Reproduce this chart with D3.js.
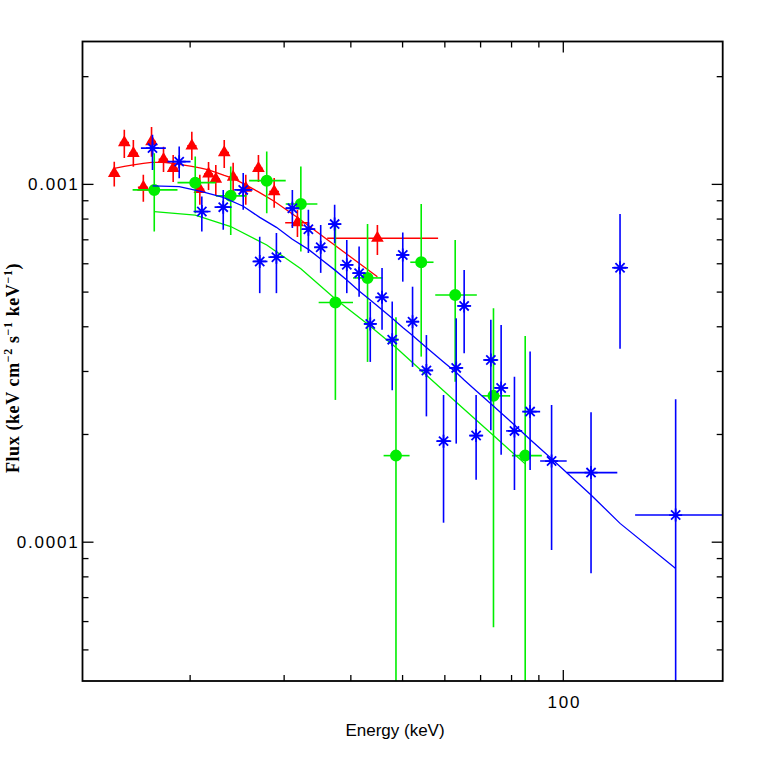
<!DOCTYPE html>
<html>
<head>
<meta charset="utf-8">
<script src="https://cdn.jsdelivr.net/npm/d3@7"></script>
<style>
  html, body { margin: 0; padding: 0; background: #fff; }
  svg { display: block; }
</style>
</head>
<body>
<svg id="chart" width="763" height="763"></svg>
<script>
// energies in keV, flux in keV cm^-2 s^-1 keV^-1

// red (triangles)
const redE    = [14.45, 15.09, 15.69, 16.38, 16.97, 17.87, 18.63, 20.19, 20.90, 21.70, 22.39, 23.22, 24.13, 25.48, 26.91, 28.80, 31.84, 44.95];
const redELo  = [14.2, 14.8, 15.4, 16.0, 16.7, 17.5, 18.3, 19.8, 20.5, 21.3, 22.0, 22.8, 23.7, 25.0, 26.4, 28.2, 30.2, 36.2];
const redEHi  = [14.7, 15.4, 16.0, 16.7, 17.3, 18.2, 19.0, 20.6, 21.3, 22.1, 22.8, 23.7, 24.6, 26.0, 27.4, 29.4, 33.5, 58.4];
const redF    = [1.071e-3, 1.305e-3, 1.218e-3, 0.979e-3, 1.313e-3, 1.172e-3, 1.106e-3, 1.277e-3, 0.966e-3, 1.067e-3, 1.031e-3, 1.223e-3, 1.044e-3, 0.973e-3, 1.106e-3, 0.952e-3, 0.779e-3, 0.705e-3];
const redFLo  = [0.983e-3, 1.182e-3, 1.116e-3, 0.892e-3, 1.190e-3, 1.080e-3, 1.013e-3, 1.167e-3, 0.874e-3, 0.962e-3, 0.926e-3, 1.108e-3, 0.950e-3, 0.874e-3, 1.013e-3, 0.857e-3, 0.711e-3, 0.633e-3];
const redFHi  = [1.154e-3, 1.416e-3, 1.327e-3, 1.060e-3, 1.443e-3, 1.269e-3, 1.205e-3, 1.398e-3, 1.060e-3, 1.152e-3, 1.130e-3, 1.327e-3, 1.145e-3, 1.060e-3, 1.205e-3, 1.039e-3, 0.846e-3, 0.768e-3];
const redModel = [1.105e-3, 1.119e-3, 1.130e-3, 1.141e-3, 1.148e-3, 1.148e-3, 1.141e-3, 1.119e-3, 1.108e-3, 1.094e-3, 1.077e-3, 1.056e-3, 1.036e-3, 0.994e-3, 0.950e-3, 0.894e-3, 0.805e-3, 0.550e-3];

// green (circles)
const greenE    = [17.17, 20.49, 23.88, 27.89, 32.31, 37.50, 43.08, 48.70, 54.30, 62.87, 74.16, 85.03];
const greenELo  = [15.64, 18.98, 22.39, 25.85, 30.27, 34.89, 40.46, 46.17, 51.80, 57.69, 70.54, 80.29];
const greenEHi  = [18.98, 22.39, 25.56, 30.27, 34.70, 40.46, 45.91, 51.64, 57.26, 69.02, 79.67, 91.35];
const greenF    = [0.962e-3, 1.008e-3, 0.926e-3, 1.021e-3, 0.879e-3, 0.466e-3, 0.546e-3, 0.174e-3, 0.604e-3, 0.489e-3, 0.2556e-3, 0.174e-3];
const greenFLo  = [0.736e-3, 0.828e-3, 0.720e-3, 0.828e-3, 0.647e-3, 0.249e-3, 0.318e-3, 0, 0.329e-3, 0.280e-3, 0.0577e-3, 0];
const greenFHi  = [1.218e-3, 1.192e-3, 1.118e-3, 1.231e-3, 1.118e-3, 0.773e-3, 0.773e-3, 0.424e-3, 0.879e-3, 0.697e-3, 0.449e-3, 0.376e-3];
const greenModel = [0.837e-3, 0.818e-3, 0.760e-3, 0.675e-3, 0.579e-3, 0.477e-3, 0.406e-3, 0.349e-3, 0.301e-3, 0.247e-3, 0.198e-3, 0.165e-3];

// blue (asterisks)
const blueE    = [17.04, 19.12, 21.08, 23.12, 25.20, 27.06, 29.08, 31.15, 33.38, 35.20, 37.38, 39.39, 41.54, 43.59, 45.86, 47.92, 50.15, 52.31, 55.53, 59.79, 63.15, 65.35, 68.81, 73.32, 76.65, 81.18, 86.85, 95.28, 112.95, 128.0, 162.7];
const blueELo  = [16.21, 18.18, 20.34, 22.27, 24.24, 26.23, 28.09, 30.23, 32.38, 34.25, 36.38, 38.31, 40.35, 42.47, 44.56, 46.71, 48.76, 50.91, 53.84, 57.94, 61.28, 63.42, 66.77, 70.93, 74.38, 78.31, 83.93, 90.69, 101.7, 123.7, 136.6];
const blueEHi  = [18.05, 20.08, 21.89, 23.96, 26.23, 27.98, 30.10, 32.10, 34.40, 36.22, 38.47, 40.52, 42.66, 44.75, 47.12, 49.18, 51.57, 53.84, 57.18, 61.80, 65.08, 67.34, 70.93, 75.68, 79.00, 83.93, 90.69, 101.7, 126.5, 132.5, 199.2];
const blueF    = [1.259e-3, 1.154e-3, 0.837e-3, 0.861e-3, 0.962e-3, 0.607e-3, 0.624e-3, 0.855e-3, 0.747e-3, 0.665e-3, 0.772e-3, 0.594e-3, 0.563e-3, 0.406e-3, 0.482e-3, 0.367e-3, 0.633e-3, 0.412e-3, 0.301e-3, 0.191e-3, 0.306e-3, 0.456e-3, 0.198e-3, 0.322e-3, 0.269e-3, 0.204e-3, 0.231e-3, 0.168e-3, 0.156e-3, 0.583e-3, 0.1187e-3];
const blueFLo  = [1.094e-3, 1.037e-3, 0.736e-3, 0.744e-3, 0.846e-3, 0.495e-3, 0.495e-3, 0.753e-3, 0.641e-3, 0.564e-3, 0.683e-3, 0.495e-3, 0.484e-3, 0.318e-3, 0.391e-3, 0.265e-3, 0.533e-3, 0.308e-3, 0.224e-3, 0.113e-3, 0.188e-3, 0.336e-3, 0.149e-3, 0.205e-3, 0.175e-3, 0.1395e-3, 0.1587e-3, 0.0948e-3, 0.0816e-3, 0.346e-3, 0];
const blueFHi  = [1.371e-3, 1.271e-3, 0.922e-3, 0.962e-3, 1.073e-3, 0.712e-3, 0.729e-3, 0.962e-3, 0.846e-3, 0.768e-3, 0.874e-3, 0.697e-3, 0.668e-3, 0.468e-3, 0.582e-3, 0.469e-3, 0.731e-3, 0.516e-3, 0.378e-3, 0.257e-3, 0.421e-3, 0.575e-3, 0.257e-3, 0.417e-3, 0.403e-3, 0.289e-3, 0.340e-3, 0.241e-3, 0.230e-3, 0.824e-3, 0.250e-3];
const blueModel = [0.987e-3, 0.983e-3, 0.952e-3, 0.917e-3, 0.866e-3, 0.806e-3, 0.756e-3, 0.700e-3, 0.656e-3, 0.617e-3, 0.575e-3, 0.539e-3, 0.502e-3, 0.474e-3, 0.445e-3, 0.421e-3, 0.397e-3, 0.377e-3, 0.349e-3, 0.318e-3, 0.297e-3, 0.283e-3, 0.264e-3, 0.243e-3, 0.229e-3, 0.212e-3, 0.193e-3, 0.1706e-3, 0.1351e-3, 0.1125e-3, 0.0842e-3];

// axes
const xMajorTicks = [100];
const xTickLabels = ["100"];
const xMinorTicks = [20, 30, 40, 50, 60, 70, 80, 90];
const yMajorTicks = [1e-4, 1e-3];
const yTickLabels = ["0.0001", "0.001"];
const yMinorTicks = [5e-5, 6e-5, 7e-5, 8e-5, 9e-5, 2e-4, 3e-4, 4e-4, 5e-4, 6e-4, 7e-4, 8e-4, 9e-4, 2e-3];

const width = 763, height = 763;
const margin = { top: 41.5, right: 40.3, bottom: 82, left: 82.5 };
const font = "'Liberation Sans', Arial, Helvetica, sans-serif";

const svg = d3.select("#chart");

const x = d3.scaleLog()
    .domain([12.6, 199.3])
    .range([margin.left, width - margin.right]);
const y = d3.scaleLog()
    .domain([4.08e-5, 2.5e-3])
    .range([height - margin.bottom, margin.top]);

// values <= 0 (error reaching zero) go to the bottom of the frame
const yv = v => v > 0 ? y(v) : height - margin.bottom + 5;

svg.append("defs").append("clipPath").attr("id", "clip")
    .append("rect")
    .attr("x", margin.left).attr("y", margin.top)
    .attr("width", width - margin.left - margin.right)
    .attr("height", height - margin.top - margin.bottom);

const series = [
    { color: "#ff0000", marker: "triangle", E: redE, eLo: redELo, eHi: redEHi, F: redF, fLo: redFLo, fHi: redFHi, model: redModel },
    { color: "#00ee00", marker: "circle", E: greenE, eLo: greenELo, eHi: greenEHi, F: greenF, fLo: greenFLo, fHi: greenFHi, model: greenModel },
    { color: "#0000ff", marker: "star", E: blueE, eLo: blueELo, eHi: blueEHi, F: blueF, fLo: blueFLo, fHi: blueFHi, model: blueModel }
];

const plot = svg.append("g").attr("clip-path", "url(#clip)");

const triangle = d3.symbol(d3.symbolTriangle).size(70)();
const star = "M-6.5,0L6.5,0M0,-6.5L0,6.5M-4.6,-4.6L4.6,4.6M-4.6,4.6L4.6,-4.6";

series.forEach(s => {
    const g = plot.append("g");
    const idx = s.E.map((d, i) => i);

    g.selectAll(".xerr")
        .data(idx)
        .join("line")
        .attr("class", "xerr")
        .attr("x1", i => x(s.eLo[i]))
        .attr("x2", i => x(s.eHi[i]))
        .attr("y1", i => y(s.F[i]))
        .attr("y2", i => y(s.F[i]))
        .attr("stroke", s.color)
        .attr("stroke-width", 1.6);

    g.selectAll(".yerr")
        .data(idx)
        .join("line")
        .attr("class", "yerr")
        .attr("x1", i => x(s.E[i]))
        .attr("x2", i => x(s.E[i]))
        .attr("y1", i => yv(s.fLo[i]))
        .attr("y2", i => yv(s.fHi[i]))
        .attr("stroke", s.color)
        .attr("stroke-width", 1.6);

    const marks = g.selectAll(".mark")
        .data(idx)
        .join("path")
        .attr("class", "mark")
        .attr("transform", i => `translate(${x(s.E[i])},${y(s.F[i])})`);

    if (s.marker === "triangle") {
        marks.attr("d", triangle).attr("fill", s.color);
    } else if (s.marker === "circle") {
        marks.attr("d", d3.symbol(d3.symbolCircle).size(113)()).attr("fill", s.color);
    } else {
        marks.attr("d", star).attr("fill", "none").attr("stroke", s.color).attr("stroke-width", 1.8);
    }

    const line = d3.line()
        .x(i => x(s.E[i]))
        .y(i => y(s.model[i]));
    g.append("path")
        .attr("d", line(idx))
        .attr("fill", "none")
        .attr("stroke", s.color)
        .attr("stroke-width", 1.3);
});

// axes, ticks pointing inward on all four sides
function styleAxis(g) {
    g.select(".domain").remove();
    g.selectAll(".tick line").attr("stroke", "#000").attr("stroke-width", 1.3);
    g.selectAll(".tick text")
        .attr("fill", "#000")
        .style("font-family", font)
        .style("font-size", "17px")
        .style("letter-spacing", "1.8px");
}

const atBottom = `translate(0,${height - margin.bottom})`;
const atTop = `translate(0,${margin.top})`;
const atLeft = `translate(${margin.left},0)`;
const atRight = `translate(${width - margin.right},0)`;

svg.append("g").attr("transform", atBottom)
    .call(d3.axisBottom(x).tickValues(xMajorTicks).tickSize(-11).tickPadding(15)
        .tickFormat((d, i) => xTickLabels[i]))
    .call(styleAxis)
    .selectAll(".tick text").attr("dx", 1);
svg.append("g").attr("transform", atBottom)
    .call(d3.axisBottom(x).tickValues(xMinorTicks).tickSize(-6).tickFormat(""))
    .call(styleAxis);
svg.append("g").attr("transform", atTop)
    .call(d3.axisTop(x).tickValues(xMajorTicks).tickSize(-11).tickFormat(""))
    .call(styleAxis);
svg.append("g").attr("transform", atTop)
    .call(d3.axisTop(x).tickValues(xMinorTicks).tickSize(-6).tickFormat(""))
    .call(styleAxis);

svg.append("g").attr("transform", atLeft)
    .call(d3.axisLeft(y).tickValues(yMajorTicks).tickSize(-11).tickPadding(3)
        .tickFormat((d, i) => yTickLabels[i]))
    .call(styleAxis);
svg.append("g").attr("transform", atLeft)
    .call(d3.axisLeft(y).tickValues(yMinorTicks).tickSize(-6).tickFormat(""))
    .call(styleAxis);
svg.append("g").attr("transform", atRight)
    .call(d3.axisRight(y).tickValues(yMajorTicks).tickSize(-11).tickFormat(""))
    .call(styleAxis);
svg.append("g").attr("transform", atRight)
    .call(d3.axisRight(y).tickValues(yMinorTicks).tickSize(-6).tickFormat(""))
    .call(styleAxis);

// frame
svg.append("rect")
    .attr("x", margin.left).attr("y", margin.top)
    .attr("width", width - margin.left - margin.right)
    .attr("height", height - margin.top - margin.bottom)
    .attr("fill", "none")
    .attr("stroke", "#000")
    .attr("stroke-width", 1.8);

// axis titles
svg.append("text")
    .attr("x", 395)
    .attr("y", 736)
    .attr("text-anchor", "middle")
    .style("font-family", font)
    .style("font-size", "17px")
    .text("Energy (keV)");

const ylab = svg.append("text")
    .attr("transform", "translate(19,368) rotate(-90)")
    .attr("text-anchor", "middle")
    .style("font-family", "'Liberation Serif', 'Times New Roman', serif")
    .style("font-weight", "bold")
    .style("font-size", "18px")
    .style("letter-spacing", "0.6px");
ylab.append("tspan").text("Flux (keV cm");
ylab.append("tspan").attr("dy", -7).style("font-size", "12px").text("\u22122");
ylab.append("tspan").attr("dy", 7).text(" s");
ylab.append("tspan").attr("dy", -7).style("font-size", "12px").text("\u22121");
ylab.append("tspan").attr("dy", 7).text(" keV");
ylab.append("tspan").attr("dy", -7).style("font-size", "12px").text("\u22121");
ylab.append("tspan").attr("dy", 7).text(")");
</script>
</body>
</html>
